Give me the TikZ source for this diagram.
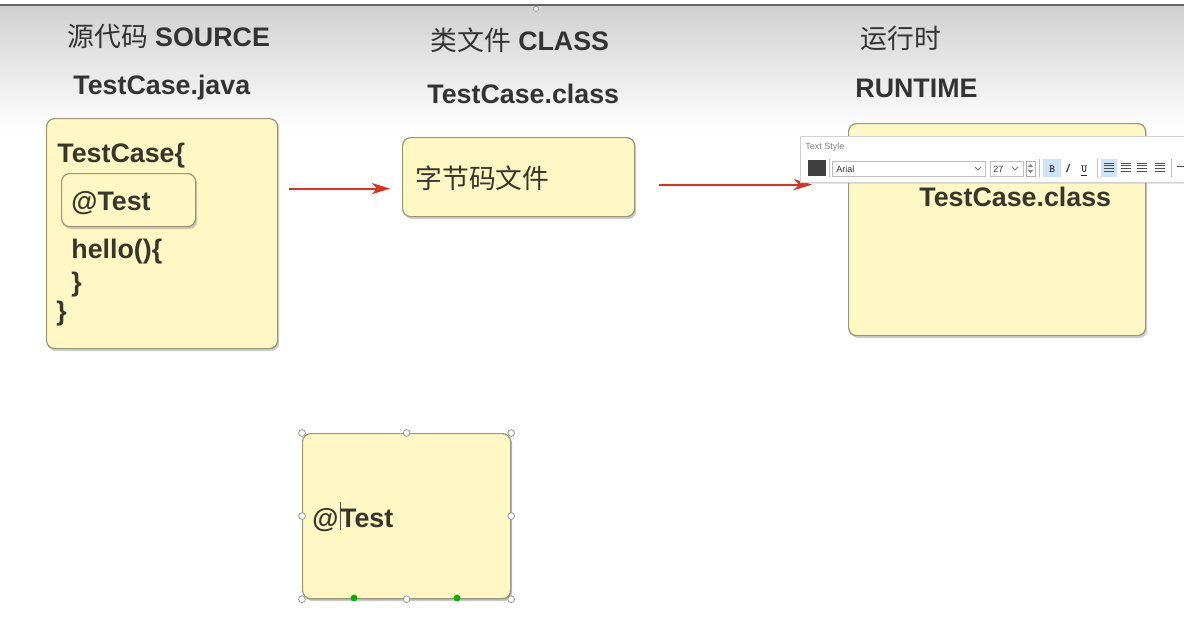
\documentclass[tikz,border=0pt]{standalone}
\usepackage{fontspec}
\setmainfont{Liberation Sans}
\newfontfamily\cjk{Noto Sans CJK SC}
\usepackage{xcolor}
\usetikzlibrary{arrows.meta,shadows}
\definecolor{notefill}{HTML}{FFF8C4}
\definecolor{noteedge}{HTML}{9A9678}
\definecolor{ink}{HTML}{38362A}
\definecolor{flowred}{HTML}{E2301E}
\definecolor{pickblue}{HTML}{CFE3F7}

\begin{document}
\begin{tikzpicture}[x=0.5pt,y=-0.5pt,
    note/.style={draw=noteedge, fill=notefill, rounded corners=4pt, line width=0.6pt,
      anchor=north west, inner sep=0,
      drop shadow={opacity=0.4, shadow xshift=0.8pt, shadow yshift=-1.2pt}},
    head/.style={anchor=base west, inner sep=0, text=black!80, font=\fontsize{13.4}{15}\selectfont\bfseries},
    code/.style={anchor=base west, inner sep=0, text=ink, font=\fontsize{13.4}{15}\selectfont\bfseries},
    flow/.style={-{Stealth[length=9pt,width=5.5pt,inset=2.5pt]}, draw=flowred, line width=1.1pt,
      drop shadow={opacity=0.2, shadow xshift=0.4pt, shadow yshift=-0.8pt}},
    handle/.style={circle, draw=gray!80, fill=white, inner sep=0, minimum size=3.4pt, line width=0.4pt},
    grip/.style={circle, fill=green!70!black, inner sep=0, minimum size=3.4pt},
    tool/.style={anchor=base west, inner sep=0, text=gray, font=\fontsize{4.5}{5}\selectfont}
  ]
  \useasboundingbox (0,0) rectangle (1184,623);
  % backdrop
  \fill[white] (0,0) rectangle (1184,623);
  \shade[top color=black!18, bottom color=white] (0,6) rectangle (1184,132);
  \draw[black!60, line width=1pt] (0,5) -- (1184,5);
  \node[handle, minimum size=2.5pt] (pin) at (536,9) {};

  % column heads
  \node[head] (h1) at (67,46) {{\cjk\mdseries 源代码} SOURCE};
  \node[head] (h2) at (430,50) {{\cjk\mdseries 类文件} CLASS};
  \node[head] (h3) at (860,48) {{\cjk\mdseries 运行时}};
  \node[head] (f1) at (73,94) {TestCase.java};
  \node[head] (f2) at (427,103) {TestCase.class};
  \node[head] (f3) at (855,97) {RUNTIME};

  % source
  \node[note, minimum width=115.5pt, minimum height=115pt] (src) at (46,118) {};
  \node[note, minimum width=67pt, minimum height=26.5pt] (ann) at (61,173) {};
  \node[code] (c1) at (57,162) {TestCase\{};
  \node[code] (c2) at (71,210) {@Test};
  \node[code] (c3) at (71,258) {hello()\{};
  \node[code] (c4) at (71,291) {\}};
  \node[code] (c5) at (56,320) {\}};

  % class file
  \node[note, minimum width=116pt, minimum height=39.5pt] (cls) at (402,137) {};
  \node[code, font=\fontsize{13.4}{15}\selectfont\cjk] (bc) at (415,188) {字节码文件};

  % runtime
  \node[note, minimum width=148.5pt, minimum height=106pt] (rt) at (848,123) {};
  \node[code] (rc) at (919,206) {TestCase.class};

  \draw[flow] ([xshift=5.5pt,yshift=-5.75pt]src.east |- cls.west) -- ([xshift=-6pt,yshift=-5.75pt]cls.west);
  \draw[flow] ([xshift=12pt,yshift=-3.75pt]cls.east) -- ([xshift=-18pt,yshift=-3.75pt]rt.west |- cls.east);

  % text style bar
  \node[draw=gray!35, fill=white, anchor=north west, inner sep=0, minimum width=192pt, minimum height=23pt,
    drop shadow={opacity=0.2, shadow xshift=0.5pt, shadow yshift=-0.8pt}] (bar) at (800,136) {};
  \node[tool] (ts) at (805,149) {Text Style};
  \fill[black!75] (808,160) rectangle (826,176);
  \draw[gray!50] (829,159) -- (829,177);
  \node[draw=gray!50, fill=white, anchor=north west, inner sep=0, minimum width=76.5pt, minimum height=7.5pt] (fontbox) at (832,161) {};
  \node[tool, text=black!80] (fn) at (836,172) {Arial};
  \draw[gray] (975,167) -- (978,170) -- (981,167);
  \node[draw=gray!50, fill=white, anchor=north west, inner sep=0, minimum width=16.5pt, minimum height=7.5pt] (sizebox) at (990,161) {};
  \node[tool, text=black!80] (fs) at (993,172) {27};
  \draw[gray] (1012,167) -- (1015,170) -- (1018,167);
  \draw[gray!60] (1026,161) rectangle (1035,176);
  \fill[gray] (1028,167) -- (1033,167) -- (1030.5,164) -- cycle;
  \fill[gray] (1028,170) -- (1033,170) -- (1030.5,173) -- cycle;
  \draw[gray!50] (1039,159) -- (1039,177);
  \fill[pickblue] (1043,159) rectangle (1061,177);
  \node[tool, text=black!85, font=\fontsize{5.5}{6}\selectfont\bfseries\ttfamily] (tb) at (1049,172) {B};
  \node[tool, text=black!85, font=\fontsize{5.5}{6}\selectfont\bfseries\itshape] (ti) at (1066,172) {/};
  \node[tool, text=black!85, font=\fontsize{5.5}{6}\selectfont\bfseries\ttfamily] (tu) at (1081,172) {\underline{U}};
  \draw[gray!50] (1097,159) -- (1097,177);
  \fill[pickblue] (1101,159) rectangle (1117,177);
  \foreach \ax in {1104,1121,1137,1155}
    \foreach \k in {0,1,2,3}
      \draw[black!70, line width=0.5pt] (\ax,163+2.8*\k) -- (\ax+10,163+2.8*\k);
  \draw[gray!50] (1171,159) -- (1171,177);
  \draw[black!70, line width=0.5pt] (1177,166) -- (1184,166);

  % selected note
  \node[note, minimum width=104pt, minimum height=82.5pt, drop shadow={opacity=0.25, shadow xshift=0.6pt, shadow yshift=-0.8pt}] (sel) at (302,433) {};
  \node[code] (st) at (312,527) {@\kern0.6pt\textcolor{black!70}{\rule[-1.5pt]{0.4pt}{14pt}}\kern-0.2ptTest};
  \foreach \p in {north west,north,north east,west,east,south west,south,south east}
    \node[handle] at (sel.\p) {};
  \node[grip] (g1) at (354,598) {};
  \node[grip] (g2) at (457,598) {};
\end{tikzpicture}
\end{document}
